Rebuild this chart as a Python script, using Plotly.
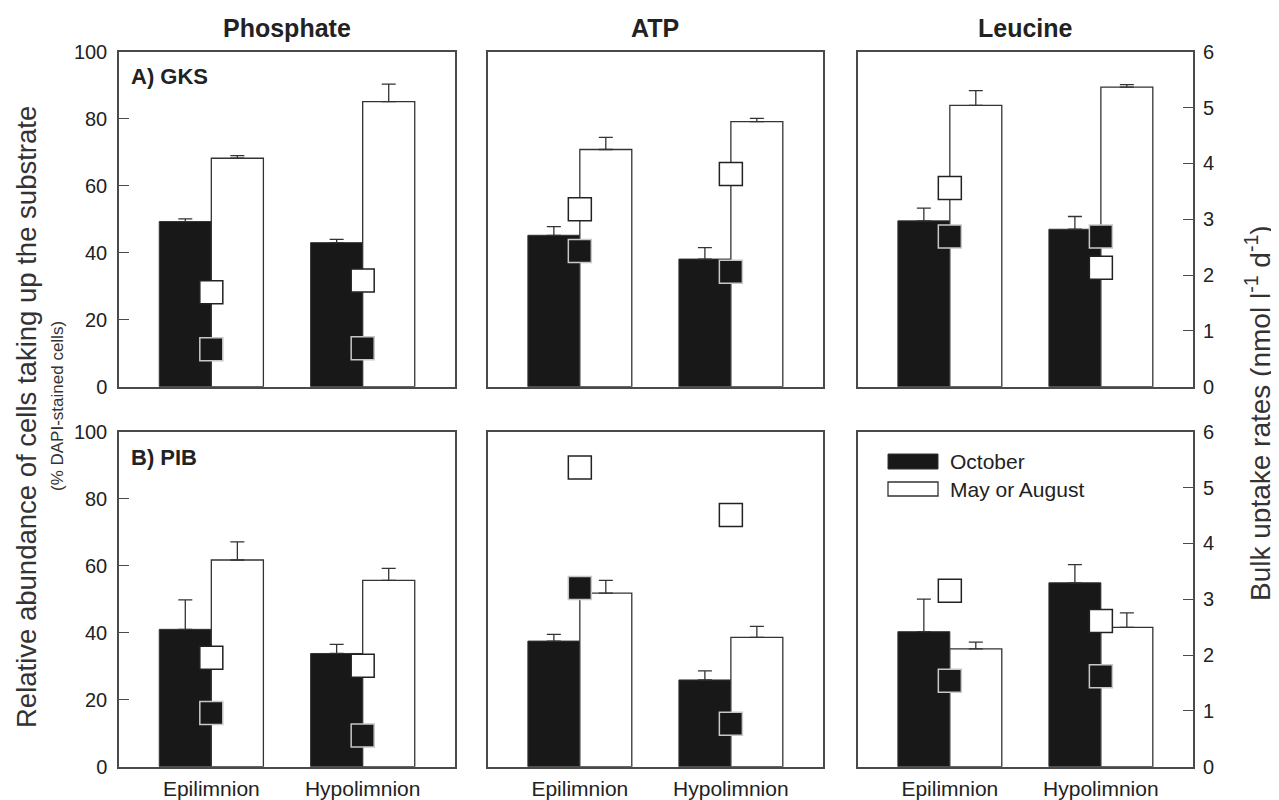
import plotly.graph_objects as go

# ---------------- data ----------------
sites = ["Epilimnion", "Hypolimnion"]
substrates = ["Phosphate", "ATP", "Leucine"]
lakes = ["A) GKS", "B) PIB"]

# % DAPI-stained cells taking up substrate (bars), [Epilimnion, Hypolimnion]
oct_gks = {"Phosphate": [49.3, 43.0], "ATP": [45.2, 38.1], "Leucine": [49.5, 47.0]}
oct_gks_err = {"Phosphate": [0.8, 1.0], "ATP": [2.6, 3.4], "Leucine": [3.8, 3.8]}
may_gks = {"Phosphate": [68.2, 85.1], "ATP": [70.8, 79.1], "Leucine": [84.0, 89.4]}
may_gks_err = {"Phosphate": [0.8, 5.2], "ATP": [3.6, 1.0], "Leucine": [4.4, 0.8]}

oct_pib = {"Phosphate": [41.0, 33.8], "ATP": [37.5, 25.9], "Leucine": [40.3, 54.9]}
oct_pib_err = {"Phosphate": [8.8, 2.7], "ATP": [2.0, 2.7], "Leucine": [9.7, 5.4]}
may_pib = {"Phosphate": [61.7, 55.6], "ATP": [51.8, 38.6], "Leucine": [35.2, 41.6]}
may_pib_err = {"Phosphate": [5.4, 3.6], "ATP": [3.8, 3.3], "Leucine": [2.0, 4.3]}

# bulk uptake rates (squares, right axis, nmol l-1 d-1)
oct_bulk_gks = {"Phosphate": [0.67, 0.69], "ATP": [2.43, 2.06], "Leucine": [2.69, 2.69]}
may_bulk_gks = {"Phosphate": [1.69, 1.90], "ATP": [3.18, 3.81], "Leucine": [3.56, 2.13]}
oct_bulk_pib = {"Phosphate": [0.96, 0.56], "ATP": [3.20, 0.77], "Leucine": [1.54, 1.62]}
may_bulk_pib = {"Phosphate": [1.95, 1.81], "ATP": [5.36, 4.51], "Leucine": [3.15, 2.61]}

left_ticks = [0, 20, 40, 60, 80, 100]
right_ticks = [0, 1, 2, 3, 4, 5, 6]

# ---------------- layout helpers ----------------
# the page body has an 8px margin, so the figure is sized to fit the window
OFF = 8
W, H = 1279 - OFF, 800 - OFF
def px(x):
    return (x - OFF) / W
def py(y):
    return 1 - (y - OFF) / H

col_x = [(119, 455), (487.7, 823), (857.7, 1193)]
row_y = [(51.7, 386.7), (431.7, 766.7)]

FONT = "Liberation Sans, Arial, Helvetica, sans-serif"
TXT = "#222222"
LINE = "#4a4a4a"
BLACK = "#181818"

rows_data = [
    (oct_gks, oct_gks_err, may_gks, may_gks_err, oct_bulk_gks, may_bulk_gks),
    (oct_pib, oct_pib_err, may_pib, may_pib_err, oct_bulk_pib, may_bulk_pib),
]

fig = go.Figure()
layout = {}

for r in range(2):
    o, oe, m, me, ob, mb = rows_data[r]
    for c, sub in enumerate(substrates):
        k = r * 3 + c + 1
        xa = f"x{k}"
        ya = f"y{k}"
        ya2 = f"y{k + 6}"
        fig.add_trace(go.Bar(
            x=sites, y=o[sub], xaxis=xa, yaxis=ya, name="October",
            marker=dict(color=BLACK, line=dict(color="#333333", width=1)),
            error_y=dict(type="data", array=oe[sub], arrayminus=[0, 0], symmetric=False,
                         color="#333333", thickness=1.3, width=7),
            showlegend=False, offsetgroup="oct",
        ))
        fig.add_trace(go.Bar(
            x=sites, y=m[sub], xaxis=xa, yaxis=ya, name="May or August",
            marker=dict(color="white", line=dict(color="#333333", width=1.3)),
            error_y=dict(type="data", array=me[sub], arrayminus=[0, 0], symmetric=False,
                         color="#333333", thickness=1.3, width=7),
            showlegend=False, offsetgroup="may",
        ))
        fig.add_trace(go.Scatter(
            x=sites, y=mb[sub], xaxis=xa, yaxis=ya2, mode="markers",
            marker=dict(symbol="square", size=23, color="white",
                        line=dict(color="#222222", width=1.5)),
            showlegend=False, cliponaxis=False,
        ))
        fig.add_trace(go.Scatter(
            x=sites, y=ob[sub], xaxis=xa, yaxis=ya2, mode="markers",
            marker=dict(symbol="square", size=23, color=BLACK,
                        line=dict(color="#c8c8c8", width=1.5)),
            showlegend=False, cliponaxis=False,
        ))

        x0, x1 = col_x[c]
        yt, yb = row_y[r]
        layout[f"xaxis{k}"] = dict(
            domain=[px(x0), px(x1)], anchor=ya, type="category", automargin=False,
            range=[-0.61, 1.61], showline=True, mirror=True, linecolor=LINE, linewidth=1.5,
            showgrid=False, zeroline=False, ticks="outside", ticklen=0,
            showticklabels=(r == 1), tickfont=dict(family=FONT, size=21, color=TXT),
            ticklabelstandoff=2,
        )
        layout[f"yaxis{k}"] = dict(
            domain=[py(yb), py(yt)], anchor=xa, range=[0, 100], automargin=False,
            showline=True, mirror=True, linecolor=LINE, linewidth=1.5,
            showgrid=False, zeroline=False,
            tickvals=left_ticks, ticks=("inside" if c == 0 else ""), ticklen=10,
            tickcolor=LINE, tickwidth=1.3,
            showticklabels=(c == 0), tickfont=dict(family=FONT, size=20, color=TXT),
            ticklabelstandoff=6,
        )
        layout[f"yaxis{k + 6}"] = dict(
            overlaying=ya, anchor=xa, side="right", range=[0, 6], automargin=False,
            showline=False, showgrid=False, zeroline=False,
            tickvals=right_ticks, ticks=("inside" if c == 2 else ""), ticklen=10,
            tickcolor=LINE, tickwidth=1.3,
            showticklabels=(c == 2), tickfont=dict(family=FONT, size=20, color=TXT),
            ticklabelstandoff=9,
        )

annotations = []
# column titles
for c, sub in enumerate(substrates):
    x0, x1 = col_x[c]
    annotations.append(dict(
        x=px((x0 + x1) / 2), y=py(28), xref="paper", yref="paper",
        text=f"<b>{sub}</b>", showarrow=False, xanchor="center", yanchor="middle",
        font=dict(family=FONT, size=25, color=TXT)))
# panel labels
for r, lab in enumerate(lakes):
    yt = [76, 457][r]
    annotations.append(dict(
        x=px(129), y=py(yt), xref="paper", yref="paper", text=f"<b>{lab}</b>",
        showarrow=False, xanchor="left", yanchor="middle",
        font=dict(family=FONT, size=22, color=TXT)))
# axis titles
annotations.append(dict(
    x=px(26), y=py(417), xref="paper", yref="paper",
    text="Relative abundance of cells taking up the substrate",
    textangle=-90, showarrow=False, xanchor="center", yanchor="middle",
    font=dict(family=FONT, size=27.5, color="#333333")))
annotations.append(dict(
    x=px(58), y=py(406), xref="paper", yref="paper",
    text="(% DAPI-stained cells)",
    textangle=-90, showarrow=False, xanchor="center", yanchor="middle",
    font=dict(family=FONT, size=17, color="#333333")))
annotations.append(dict(
    x=px(1258), y=py(413), xref="paper", yref="paper",
    text="Bulk uptake rates (nmol l<sup>-1</sup> d<sup>-1</sup>)",
    textangle=-90, showarrow=False, xanchor="center", yanchor="middle",
    font=dict(family=FONT, size=28, color="#333333")))
# legend text
annotations.append(dict(
    x=px(948), y=py(461), xref="paper", yref="paper", text="October",
    showarrow=False, xanchor="left", yanchor="middle",
    font=dict(family=FONT, size=21, color=TXT)))
annotations.append(dict(
    x=px(948), y=py(489), xref="paper", yref="paper", text="May or August",
    showarrow=False, xanchor="left", yanchor="middle",
    font=dict(family=FONT, size=21, color=TXT)))

shapes = [
    dict(type="rect", xref="paper", yref="paper",
         x0=px(888), x1=px(938), y0=py(469), y1=py(454),
         fillcolor=BLACK, line=dict(color="#333333", width=1)),
    dict(type="rect", xref="paper", yref="paper",
         x0=px(888), x1=px(938), y0=py(496), y1=py(482),
         fillcolor="white", line=dict(color="#333333", width=1.3)),
]

fig.update_layout(
    width=W, height=H, margin=dict(l=0, r=0, t=0, b=0, autoexpand=False),
    paper_bgcolor="white", plot_bgcolor="white",
    barmode="group", bargap=0.312, bargroupgap=0,
    showlegend=False, annotations=annotations, shapes=shapes,
    font=dict(family=FONT, color=TXT),
    **layout,
)

fig.write_html("out.html")
